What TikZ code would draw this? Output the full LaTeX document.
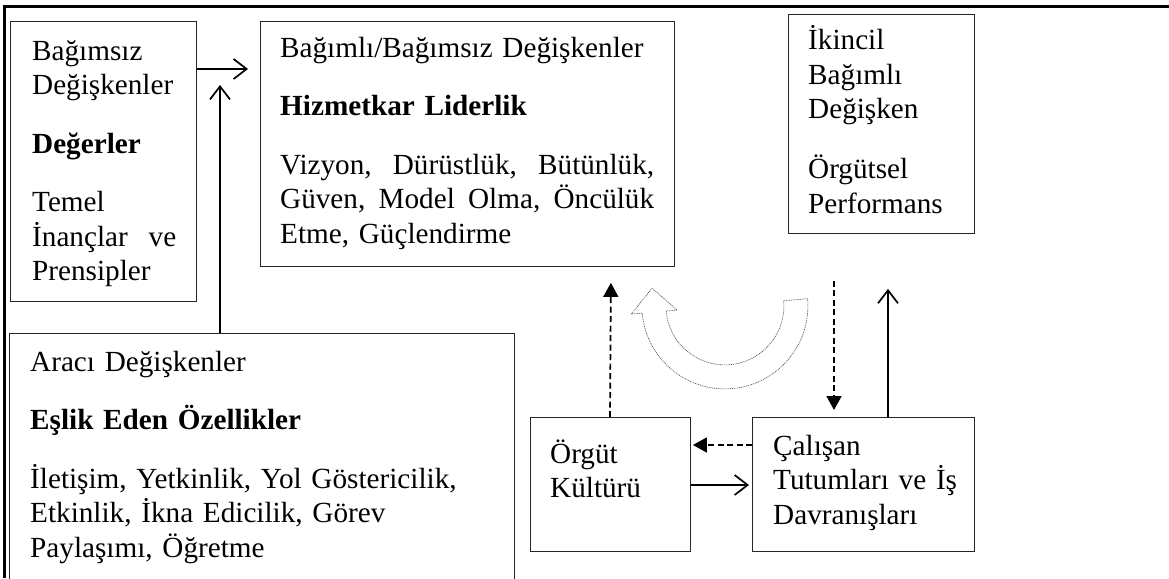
\documentclass[tikz,border=0pt]{standalone}
\usepackage{fontspec}
\setmainfont{Liberation Serif}
\usetikzlibrary{arrows.meta,calc}
\tikzset{
  box/.style={draw=black!85,line width=0.9pt,anchor=north west,inner sep=0pt},
  txt/.style={anchor=base west,inner sep=0pt,align=left,text width=480pt,
    font=\fontsize{29.2}{34.5}\selectfont},
  barb/.style={-{Straight Barb[length=13pt,width=20pt]},line width=1.7pt},
  tri/.style={-{Triangle[length=14pt,width=15pt]},line width=1.7pt,dash pattern=on 6pt off 3.5pt},
  curl/.style={draw=black!70,line width=0.6pt,dash pattern=on 1pt off 0.8pt}
}
\begin{document}
\begin{tikzpicture}[x=1pt,y=-1pt,>=Stealth]
\useasboundingbox (0,0) rectangle (1169,578);
% frame
\draw[line width=2.6pt] (4.5,578) -- (4.5,6.5) -- (1169,6.5);
% boxes
\node[box,minimum width=186pt,minimum height=280pt] (vals) at (10,21) {};
\node[box,minimum width=414pt,minimum height=245pt] (lead) at (260,21) {};
\node[box,minimum width=186pt,minimum height=219pt] (perf) at (788,14) {};
\node[box,minimum width=505pt,minimum height=270pt] (medi) at (9,333) {};
\node[box,minimum width=160pt,minimum height=134pt] (cult) at (530,417) {};
\node[box,minimum width=222pt,minimum height=134pt] (emp) at (752,417) {};
% texts
\node[txt] (valsT) at ([shift={(22,39)}]vals.north west)
  {Bağımsız\\ Değişkenler\\[24pt] \textbf{Değerler}\\[24pt] Temel\\
   \makebox[144pt][s]{İnançlar\hfill ve}\\ Prensipler};
\node[txt] (leadT) at ([shift={(20,36)}]lead.north west)
  {Bağımlı/Bağımsız Değişkenler\\[24pt] \textbf{Hizmetkar Liderlik}\\[24pt]
   \makebox[374pt][s]{Vizyon,\hfill Dürüstlük,\hfill Bütünlük,}\\
   \makebox[374pt][s]{Güven,\hfill Model\hfill Olma,\hfill Öncülük}\\ Etme, Güçlendirme};
\node[txt] (perfT) at ([shift={(20,36)}]perf.north west)
  {İkincil\\ Bağımlı\\ Değişken\\[25pt] Örgütsel\\ Performans};
\node[txt] (mediT) at ([shift={(21,38)}]medi.north west)
  {Aracı Değişkenler\\[24pt] \textbf{Eşlik Eden Özellikler}\\[24pt]
   İletişim, Yetkinlik, Yol Göstericilik,\\ Etkinlik, İkna Edicilik, Görev\\
   Paylaşımı, Öğretme};
\node[txt] (cultT) at ([shift={(20,46)}]cult.north west) {Örgüt\\ Kültürü};
\node[txt] (empT) at ([shift={(21,38)}]emp.north west)
  {Çalışan\\ Tutumları ve İş\\ Davranışları};
% connectors
\draw[barb] ([shift={(0,48)}]vals.north east) -- ([shift={(-12,48)}]lead.north west);
\draw[barb] ([shift={(211,0)}]medi.north west) -- ([shift={(-40,64)}]lead.north west);
\draw[tri] ([shift={(80,0)}]cult.north west) -- ([shift={(-64,16)}]lead.south east);
\draw[tri] ([shift={(46,47)}]perf.south west) -- ([shift={(82,-7)}]emp.north west);
\draw[barb] ([shift={(136,0)}]emp.north west) -- ([shift={(100,55)}]perf.south west);
\draw[tri] ([shift={(0,28)}]emp.north west) -- ([shift={(2,28)}]cult.north east);
\draw[barb] ([shift={(0,68)}]cult.north east) -- ([shift={(-3,68)}]emp.north west);
% curved block arrow
\coordinate (c) at ([shift={(50,39)}]lead.south east);
\draw[curl] ([shift={(-5:83)}]c) arc[start angle=-5,end angle=175,radius=83]
  -- ([shift={(175:94)}]c) -- ($([shift={(175:71)}]c)+(265:24)$)
  -- ([shift={(175:48)}]c) -- ([shift={(175:59)}]c)
  arc[start angle=175,end angle=-5,radius=59] -- cycle;
\end{tikzpicture}
\end{document}
